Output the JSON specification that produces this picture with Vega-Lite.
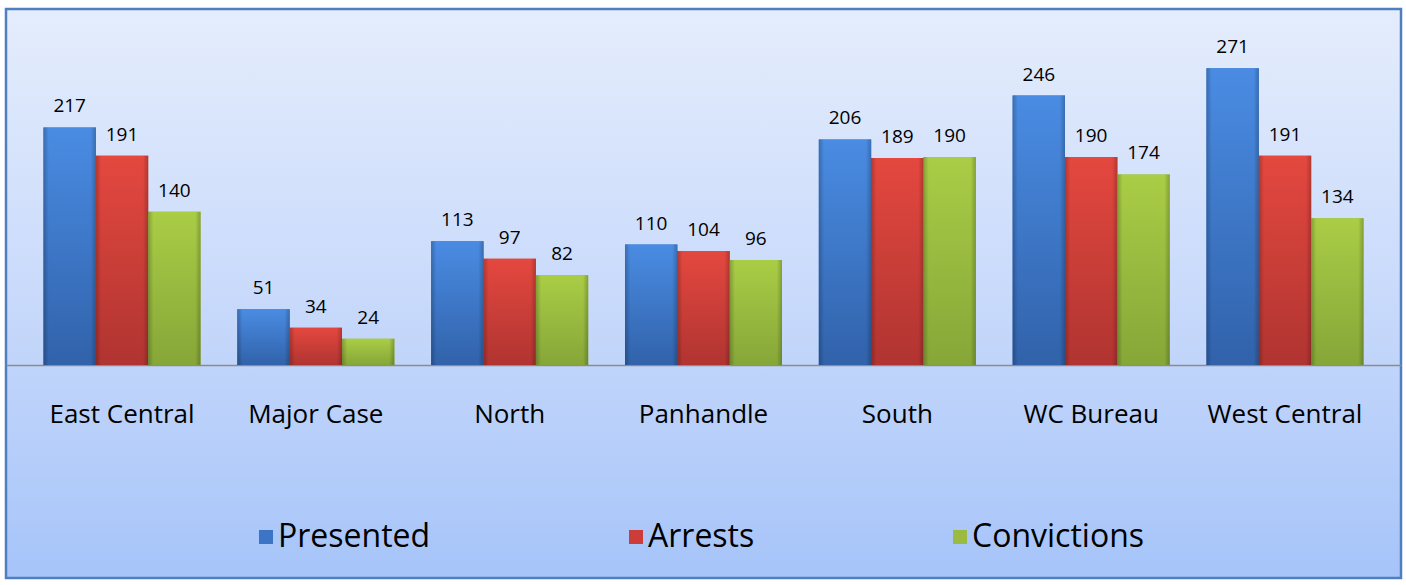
{
  "$schema": "https://vega.github.io/schema/vega-lite/v6.json",
  "width": 1395,
  "height": 569,
  "autosize": {"type": "none"},
  "padding": {"left": 6, "top": 9, "right": 5, "bottom": 7},
  "background": "white",
  "config": {
    "view": {
      "fill": {"gradient": "linear", "x1": 0, "y1": 0, "x2": 0, "y2": 1,
        "stops": [{"offset": 0, "color": "#e4edfc"}, {"offset": 0.5, "color": "#c9dafb"}, {"offset": 1, "color": "#a6c4f9"}]},
      "stroke": "#4f7fc0",
      "strokeWidth": 2.5
    },
    "font": "Open Sans"
  },
  "data": {
    "values": [
      {"region": "East Central", "series": "Presented", "value": 217},
      {"region": "East Central", "series": "Arrests", "value": 191},
      {"region": "East Central", "series": "Convictions", "value": 140},
      {"region": "Major Case", "series": "Presented", "value": 51},
      {"region": "Major Case", "series": "Arrests", "value": 34},
      {"region": "Major Case", "series": "Convictions", "value": 24},
      {"region": "North", "series": "Presented", "value": 113},
      {"region": "North", "series": "Arrests", "value": 97},
      {"region": "North", "series": "Convictions", "value": 82},
      {"region": "Panhandle", "series": "Presented", "value": 110},
      {"region": "Panhandle", "series": "Arrests", "value": 104},
      {"region": "Panhandle", "series": "Convictions", "value": 96},
      {"region": "South", "series": "Presented", "value": 206},
      {"region": "South", "series": "Arrests", "value": 189},
      {"region": "South", "series": "Convictions", "value": 190},
      {"region": "WC Bureau", "series": "Presented", "value": 246},
      {"region": "WC Bureau", "series": "Arrests", "value": 190},
      {"region": "WC Bureau", "series": "Convictions", "value": 174},
      {"region": "West Central", "series": "Presented", "value": 271},
      {"region": "West Central", "series": "Arrests", "value": 191},
      {"region": "West Central", "series": "Convictions", "value": 134}
    ]
  },
  "encoding": {
    "x": {
      "field": "region", "type": "nominal", "sort": null,
      "scale": {"paddingInner": 0.19, "paddingOuter": 0.1935},
      "axis": {
        "title": null, "orient": "bottom", "offset": -213, "labelAngle": 0,
        "ticks": false, "tickSize": 0, "labelPadding": 36,
        "labelFont": "Open Sans", "labelFontSize": 26, "labelColor": "#000000",
        "domain": true, "domainColor": "#8c8c8c", "domainWidth": 1.5
      }
    },
    "xOffset": {
      "field": "series", "type": "nominal",
      "scale": {"domain": ["Presented", "Arrests", "Convictions"], "paddingInner": 0, "paddingOuter": 0}
    },
    "y": {
      "field": "value", "type": "quantitative",
      "scale": {"domain": [-194.5, 325.1], "nice": false, "zero": false},
      "axis": null
    }
  },
  "layer": [
    {
      "mark": {"type": "bar", "strokeWidth": 0},
      "encoding": {
        "color": {
          "field": "series", "type": "nominal",
          "scale": {"domain": ["Presented", "Arrests", "Convictions"], "range": ["#3c74c6", "#cc3d3a", "#9aba40"]},
          "legend": {
            "title": null, "orient": "none", "legendX": 244, "legendY": 512,
            "padding": 0,
            "direction": "horizontal", "symbolType": "square", "symbolSize": 196,
            "symbolStrokeWidth": 0, "labelFont": "Open Sans", "labelFontSize": 32,
            "labelColor": "#000000", "labelOffset": -4, "columnPadding": 189,
            "labelLimit": 400
          }
        }
      }
    },
    {
      "mark": {"type": "bar", "strokeWidth": 0},
      "encoding": {
        "fill": {
          "condition": [
            {"test": "datum.series === 'Presented'", "value": {"gradient": "linear", "x1": 0, "y1": 0, "x2": 0, "y2": 1, "stops": [{"offset": 0, "color": "#4a8ce3"}, {"offset": 1, "color": "#3162aa"}]}},
            {"test": "datum.series === 'Arrests'", "value": {"gradient": "linear", "x1": 0, "y1": 0, "x2": 0, "y2": 1, "stops": [{"offset": 0, "color": "#e4483f"}, {"offset": 1, "color": "#b03431"}]}}
          ],
          "value": {"gradient": "linear", "x1": 0, "y1": 0, "x2": 0, "y2": 1, "stops": [{"offset": 0, "color": "#aacd46"}, {"offset": 1, "color": "#86a638"}]}
        }
      }
    },
    {
      "mark": {
        "type": "bar", "strokeWidth": 0,
        "fill": {"gradient": "linear", "x1": 0, "y1": 0, "x2": 1, "y2": 0,
          "stops": [
            {"offset": 0, "color": "rgba(0,0,0,0.22)"},
            {"offset": 0.1, "color": "rgba(0,0,0,0)"},
            {"offset": 0.9, "color": "rgba(0,0,0,0)"},
            {"offset": 1, "color": "rgba(0,0,0,0.22)"}
          ]}
      },
      "encoding": {}
    },
    {
      "mark": {"type": "text", "baseline": "alphabetic", "dy": -15, "fontSize": 19, "font": "Open Sans", "color": "#000000"},
      "encoding": {"text": {"field": "value", "type": "quantitative"}}
    }
  ]
}
